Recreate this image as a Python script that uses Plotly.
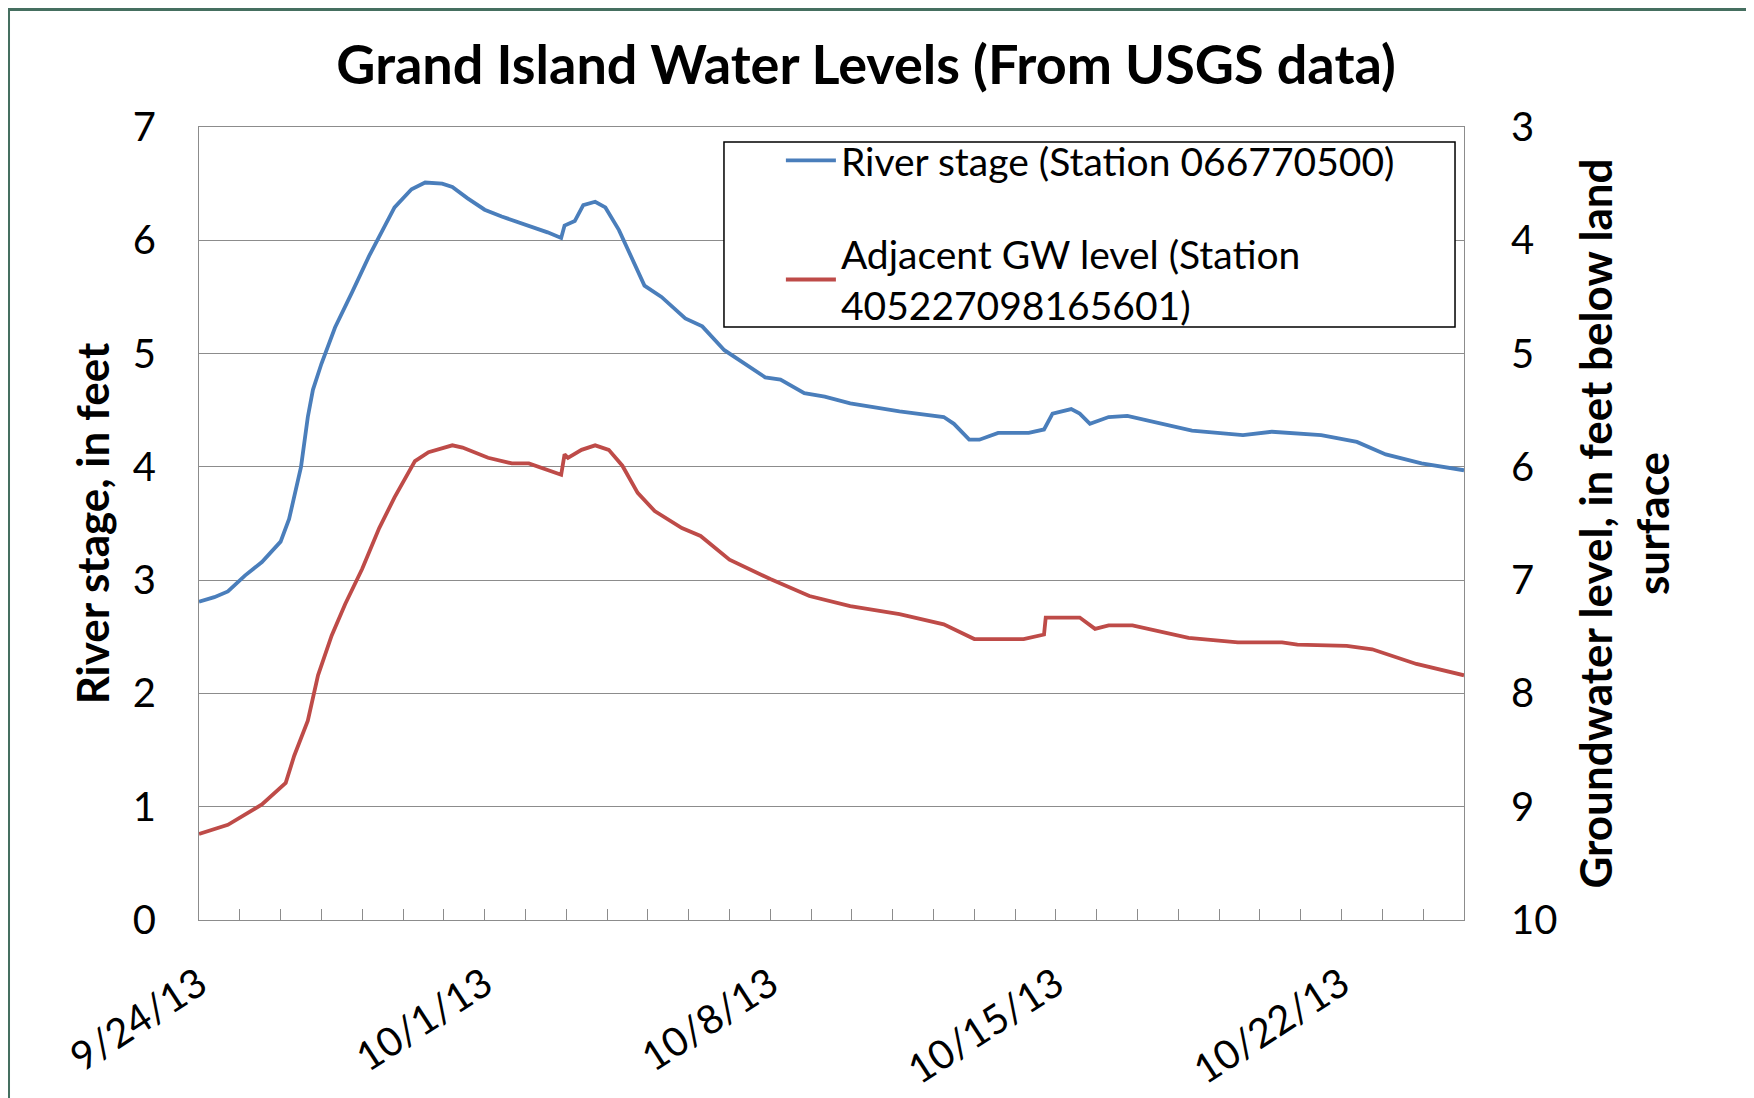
import plotly.graph_objects as go

# River stage, Station 066770500 (feet)
river_time = [
    "2013-09-24 00:00", "2013-09-24 09:00", "2013-09-24 17:00", "2013-09-25 03:00",
    "2013-09-25 13:00", "2013-09-26 00:00", "2013-09-26 05:00", "2013-09-26 08:00",
    "2013-09-26 12:00", "2013-09-26 16:00", "2013-09-26 19:00", "2013-09-27 00:00",
    "2013-09-27 08:00", "2013-09-27 18:00", "2013-09-28 04:00", "2013-09-28 12:00",
    "2013-09-28 19:00", "2013-09-29 05:00", "2013-09-29 13:00", "2013-09-29 23:00",
    "2013-09-30 05:00", "2013-09-30 14:00", "2013-10-01 00:00", "2013-10-01 10:00",
    "2013-10-02 02:00", "2013-10-02 13:00", "2013-10-02 21:00", "2013-10-02 23:00",
    "2013-10-03 05:00", "2013-10-03 10:00", "2013-10-03 17:00", "2013-10-03 23:00",
    "2013-10-04 07:00", "2013-10-04 15:00", "2013-10-04 22:00", "2013-10-05 08:00",
    "2013-10-05 22:00", "2013-10-06 08:00", "2013-10-06 21:00", "2013-10-07 21:00",
    "2013-10-08 06:00", "2013-10-08 20:00", "2013-10-09 08:00", "2013-10-09 23:00",
    "2013-10-11 04:00", "2013-10-12 06:00", "2013-10-12 12:00", "2013-10-12 21:00",
    "2013-10-13 03:00", "2013-10-13 14:00", "2013-10-14 08:00", "2013-10-14 17:00",
    "2013-10-14 22:00", "2013-10-15 09:00", "2013-10-15 14:00", "2013-10-15 20:00",
    "2013-10-16 07:00", "2013-10-16 18:00", "2013-10-17 06:00", "2013-10-18 08:00",
    "2013-10-19 14:00", "2013-10-20 07:00", "2013-10-21 12:00", "2013-10-22 09:00",
    "2013-10-23 02:00", "2013-10-23 23:00", "2013-10-25 00:00",
]
river_stage = [
    2.81, 2.85, 2.90, 3.04, 3.16, 3.34, 3.54, 3.73, 4.00, 4.44, 4.68, 4.91,
    5.23, 5.54, 5.86, 6.09, 6.29, 6.45, 6.51, 6.50, 6.47, 6.37, 6.27, 6.21,
    6.13, 6.07, 6.02, 6.13, 6.17, 6.31, 6.34, 6.29, 6.09, 5.82, 5.60, 5.50,
    5.31, 5.24, 5.03, 4.79, 4.77, 4.65, 4.62, 4.56, 4.49, 4.44, 4.38, 4.24,
    4.24, 4.30, 4.30, 4.33, 4.47, 4.51, 4.47, 4.38, 4.44, 4.45, 4.41, 4.32,
    4.28, 4.31, 4.28, 4.22, 4.11, 4.03, 3.97,
]

# Adjacent groundwater, Station 405227098165601 (feet below land surface)
gw_time = [
    "2013-09-24 00:00", "2013-09-24 17:00", "2013-09-25 13:00", "2013-09-26 03:00",
    "2013-09-26 08:00", "2013-09-26 16:00", "2013-09-26 22:00", "2013-09-27 06:00",
    "2013-09-27 14:00", "2013-09-28 00:00", "2013-09-28 10:00", "2013-09-28 19:00",
    "2013-09-29 07:00", "2013-09-29 15:00", "2013-09-30 05:00", "2013-09-30 11:00",
    "2013-10-01 02:00", "2013-10-01 16:00", "2013-10-02 02:00", "2013-10-02 12:00",
    "2013-10-02 21:00", "2013-10-02 23:00", "2013-10-03 01:00", "2013-10-03 09:00",
    "2013-10-03 17:00", "2013-10-04 01:00", "2013-10-04 09:00", "2013-10-04 18:00",
    "2013-10-05 04:00", "2013-10-05 20:00", "2013-10-06 07:00", "2013-10-07 00:00",
    "2013-10-08 00:00", "2013-10-08 23:00", "2013-10-09 23:00", "2013-10-11 04:00",
    "2013-10-12 06:00", "2013-10-13 00:00", "2013-10-14 05:00", "2013-10-14 17:00",
    "2013-10-14 18:00", "2013-10-15 14:00", "2013-10-15 23:00", "2013-10-16 07:00",
    "2013-10-16 21:00", "2013-10-18 06:00", "2013-10-19 11:00", "2013-10-20 13:00",
    "2013-10-20 22:00", "2013-10-22 03:00", "2013-10-22 18:00", "2013-10-23 20:00",
    "2013-10-25 00:00",
]
gw_depth = [
    9.24, 9.16, 8.98, 8.79, 8.55, 8.24, 7.84, 7.49, 7.21, 6.90, 6.54, 6.27,
    5.95, 5.87, 5.81, 5.83, 5.92, 5.97, 5.97, 6.02, 6.07, 5.89, 5.92, 5.85,
    5.81, 5.85, 5.99, 6.23, 6.39, 6.54, 6.61, 6.82, 6.99, 7.14, 7.23, 7.30,
    7.39, 7.52, 7.52, 7.48, 7.33, 7.33, 7.43, 7.40, 7.40, 7.51, 7.55, 7.55,
    7.57, 7.58, 7.61, 7.74, 7.84,
]

FONT = "Lato"
GRID = "#8c8c8c"
TICK_SIZE = 40
TITLE_SIZE = 44

fig = go.Figure()

fig.add_trace(go.Scatter(
    x=river_time,
    y=river_stage,
    name="River stage (Station 066770500)",
    mode="lines",
    line=dict(color="#4A7EBB", width=3.8),
    legendgroup="a",
))

fig.add_trace(go.Scatter(
    x=gw_time,
    y=gw_depth,
    name="Adjacent GW level (Station<br>405227098165601)",
    mode="lines",
    line=dict(color="#BE4B48", width=3.8),
    yaxis="y2",
    legendgroup="b",
))

# slide frame: white card on a green background
fig.add_shape(type="rect", xref="paper", yref="paper",
              x0=-0.1494, x1=1.2245, y0=-0.2245, y1=1.1463,
              fillcolor="white", line_width=0, layer="below")
# legend box
fig.add_shape(type="rect", xref="paper", yref="paper",
              x0=0.415, x1=0.9929, y0=0.7478, y1=0.981,
              fillcolor="white", line=dict(color="black", width=1.5), layer="above")

fig.update_layout(
    width=1754,
    height=1098,
    margin=dict(l=191, r=298, t=119, b=186),
    paper_bgcolor="#456f60",
    plot_bgcolor="white",
    font=dict(family=FONT, color="black"),
    title=dict(
        text="<b>Grand Island Water Levels (From USGS data)</b>",
        font=dict(size=54, family=FONT, color="black"),
        x=0.4892, xanchor="center", xref="container",
        y=0.948, yanchor="middle", yref="container",
    ),
    showlegend=True,
    legend=dict(
        x=0.46, y=0.998, xanchor="left", yanchor="top",
        bgcolor="rgba(0,0,0,0)", borderwidth=0,
        font=dict(size=39, family=FONT, color="black"),
        tracegroupgap=40,
        itemwidth=50,
    ),
    xaxis=dict(
        type="date",
        range=["2013-09-24", "2013-10-25"],
        tick0="2013-09-24",
        dtick=7 * 86400000,
        tickformat="%-m/%-d/%y",
        tickangle=-33,
        ticks="inside",
        ticklen=11,
        tickcolor=GRID,
        minor=dict(dtick=86400000, ticks="inside", ticklen=11, tickcolor=GRID, showgrid=False),
        showgrid=False,
        showline=True,
        linecolor=GRID,
        mirror=True,
        tickfont=dict(size=TICK_SIZE, family=FONT, color="black"),
        ticklabelstandoff=24,
    ),
    yaxis=dict(
        range=[0, 7],
        dtick=1,
        showgrid=True,
        gridcolor=GRID,
        showline=True,
        linecolor=GRID,
        mirror=True,
        zeroline=False,
        ticks="",
        ticklabelstandoff=34,
        tickfont=dict(size=TICK_SIZE, family=FONT, color="black"),
        title=dict(text="<b>River stage, in feet</b>",
                   font=dict(size=TITLE_SIZE, family=FONT, color="black"), standoff=9),
    ),
    yaxis2=dict(
        range=[10, 3],
        dtick=1,
        overlaying="y",
        side="right",
        showgrid=False,
        zeroline=False,
        ticks="",
        ticklabelstandoff=46,
        tickfont=dict(size=TICK_SIZE, family=FONT, color="black"),
        title=dict(text="<b>Groundwater level, in feet below land<br>surface</b>",
                   font=dict(size=TITLE_SIZE, family=FONT, color="black"), standoff=24),
    ),
)

fig.write_html("out.html")
